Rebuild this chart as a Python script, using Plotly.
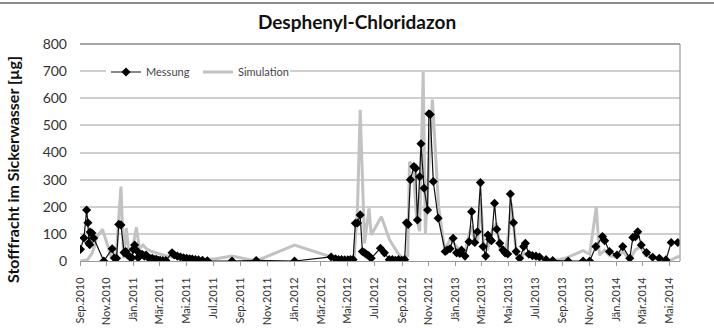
import plotly.graph_objects as go

# ---------------- data ----------------
mess_dates = [
    "2010-09-02", "2010-09-10", "2010-09-16", "2010-09-19", "2010-09-21", "2010-09-23", "2010-09-24",
    "2010-09-28", "2010-10-02", "2010-10-25", "2010-11-13", "2010-11-18", "2010-11-23", "2010-11-28",
    "2010-12-03", "2010-12-10", "2010-12-14", "2010-12-18", "2010-12-23", "2010-12-28", "2010-12-31",
    "2011-01-03", "2011-01-08", "2011-01-11", "2011-01-15", "2011-01-20", "2011-01-25", "2011-01-29",
    "2011-02-03", "2011-02-08", "2011-02-12", "2011-02-17", "2011-02-21", "2011-02-26", "2011-03-02",
    "2011-03-08", "2011-03-15", "2011-03-29", "2011-04-03", "2011-04-10", "2011-04-17", "2011-04-24",
    "2011-05-01", "2011-05-08", "2011-05-14", "2011-05-21", "2011-05-28", "2011-06-06", "2011-06-17",
    "2011-08-12", "2011-10-06", "2012-01-01", "2012-03-24", "2012-04-03", "2012-04-10", "2012-04-17",
    "2012-04-24", "2012-05-01", "2012-05-07", "2012-05-13", "2012-05-18", "2012-05-23", "2012-05-29",
    "2012-06-03", "2012-06-08", "2012-06-12", "2012-06-17", "2012-06-23", "2012-07-14", "2012-07-23",
    "2012-08-03", "2012-08-10", "2012-08-17", "2012-08-24", "2012-08-31", "2012-09-07", "2012-09-11",
    "2012-09-15", "2012-09-20", "2012-09-28", "2012-10-02", "2012-10-06", "2012-10-11", "2012-10-14",
    "2012-10-21", "2012-10-29", "2012-11-01", "2012-11-04", "2012-11-11", "2012-11-22", "2012-12-08",
    "2012-12-12", "2012-12-19", "2012-12-26", "2013-01-03", "2013-01-10", "2013-01-14", "2013-01-22",
    "2013-01-31", "2013-02-06", "2013-02-13", "2013-02-19", "2013-02-26", "2013-03-04", "2013-03-10",
    "2013-03-15", "2013-03-19", "2013-03-23", "2013-03-30", "2013-04-04", "2013-04-11", "2013-04-18",
    "2013-04-23", "2013-04-29", "2013-05-05", "2013-05-12", "2013-05-18", "2013-05-26", "2013-06-04",
    "2013-06-08", "2013-06-16", "2013-06-24", "2013-07-02", "2013-07-10", "2013-07-25", "2013-08-09",
    "2013-09-13", "2013-10-17", "2013-11-01", "2013-11-15", "2013-11-30", "2013-12-05", "2013-12-16",
    "2014-01-02", "2014-01-15", "2014-01-31", "2014-02-07", "2014-02-13", "2014-02-18", "2014-02-26",
    "2014-03-10", "2014-03-24", "2014-04-08", "2014-04-23", "2014-05-05", "2014-05-20",
]
mess_values = [
    43, 85, 188, 141, 66, 60, 107,
    103, 85, 0, 45, 11, 10, 135,
    133, 31, 35, 22, 15, 12, 43,
    59, 38, 12, 20, 25, 18, 22,
    12, 8, 10, 5, 6, 3, 3,
    2, 2, 30, 22, 18, 15, 12,
    10, 8, 7, 5, 4, 3, 1,
    0, 2, 0, 15, 8, 5, 5,
    4, 4, 5, 5, 139, 140, 170,
    35, 30, 25, 20, 10, 47, 30,
    5, 5, 3, 5, 3, 5, 141,
    135, 300, 348, 342, 151, 311, 432,
    268, 188, 543, 540, 293, 158, 35,
    40, 45, 84, 30, 28, 40, 18,
    71, 182, 68, 108, 289, 53, 18,
    96, 80, 75, 213, 117, 65, 41,
    30, 26, 247, 141, 35, 10, 53,
    65, 25, 20, 18, 15, 5, 2,
    0, 0, 0, 53, 90, 75, 35,
    22, 53, 10, 87, 90, 108, 59,
    31, 14, 10, 4, 68, 68,
]

sim_dates = [
    "2010-09-02", "2010-09-18", "2010-09-29", "2010-10-10", "2010-10-22", "2010-11-03", "2010-11-11",
    "2010-11-22", "2010-12-03", "2010-12-09", "2010-12-15", "2010-12-22", "2010-12-30", "2011-01-07",
    "2011-01-14", "2011-01-22", "2011-01-30", "2011-02-11", "2011-02-24", "2011-03-13", "2011-03-29",
    "2011-04-17", "2011-05-09", "2011-06-01", "2011-07-06", "2011-08-12", "2011-09-09", "2011-10-06",
    "2012-01-01", "2012-03-24", "2012-04-12", "2012-05-15", "2012-05-23", "2012-05-29", "2012-06-08",
    "2012-06-18", "2012-06-23", "2012-07-16", "2012-08-04", "2012-08-23", "2012-09-05", "2012-09-14",
    "2012-09-18", "2012-09-26", "2012-10-04", "2012-10-11", "2012-10-19", "2012-10-24", "2012-11-09",
    "2012-11-23", "2012-12-07", "2012-12-19", "2012-12-30", "2013-01-11", "2013-01-22", "2013-01-31",
    "2013-02-07", "2013-02-14", "2013-02-20", "2013-02-26", "2013-03-05", "2013-03-14", "2013-03-26",
    "2013-04-04", "2013-04-11", "2013-04-22", "2013-05-01", "2013-05-07", "2013-05-12", "2013-05-19",
    "2013-05-26", "2013-06-06", "2013-06-18", "2013-07-10", "2013-08-09", "2013-09-06", "2013-09-29",
    "2013-10-17", "2013-11-01", "2013-11-16", "2013-11-23", "2013-12-05", "2013-12-16", "2014-01-01",
    "2014-01-15", "2014-01-31", "2014-02-12", "2014-02-24", "2014-03-07", "2014-03-25", "2014-04-08",
    "2014-05-03", "2014-05-23",
]
sim_values = [
    0, 5, 30, 90, 117, 60, 15,
    20, 274, 10, 122, 20, 50, 124,
    45, 59, 45, 35, 28, 20, 15,
    10, 6, 4, 8, 18, 8, 0,
    59, 15, 5, 5, 200, 557, 65,
    194, 96, 163, 77, 28, 5, 20,
    366, 350, 160, 110, 697, 100, 595,
    200, 40, 80, 60, 40, 30, 100,
    130, 60, 80, 231, 60, 40, 120,
    140, 50, 20, 100, 213, 140, 20,
    5, 30, 20, 8, 0, 10, 25,
    38, 25, 200, 22, 40, 20, 15,
    35, 5, 40, 53, 20, 10, 5,
    2, 18,
]

tick_dates = [
    "2010-09-01", "2010-11-01", "2011-01-01", "2011-03-01", "2011-05-01", "2011-07-01",
    "2011-09-01", "2011-11-01", "2012-01-01", "2012-03-01", "2012-05-01", "2012-07-01",
    "2012-09-01", "2012-11-01", "2013-01-01", "2013-03-01", "2013-05-01", "2013-07-01",
    "2013-09-01", "2013-11-01", "2014-01-01", "2014-03-01", "2014-05-01",
]
tick_labels = [
    "Sep.2010", "Nov.2010", "Jän.2011", "Mär.2011", "Mai.2011", "Jul.2011",
    "Sep.2011", "Nov.2011", "Jän.2012", "Mär.2012", "Mai.2012", "Jul.2012",
    "Sep.2012", "Nov.2012", "Jän.2013", "Mär.2013", "Mai.2013", "Jul.2013",
    "Sep.2013", "Nov.2013", "Jän.2014", "Mär.2014", "Mai.2014",
]

FONT = "Lato"
W, H = 714, 328
ML, MR, MT, MB = 80, 34, 44, 67
PW, PH = W - ML - MR, H - MT - MB

fig = go.Figure()
fig.add_trace(go.Scatter(
    x=sim_dates, y=sim_values, name="Simulation", mode="lines",
    line=dict(color="#c2c2c2", width=3),
))
fig.add_trace(go.Scatter(
    x=mess_dates, y=mess_values, name="Messung", mode="lines+markers",
    line=dict(color="#111111", width=1.2),
    marker=dict(symbol="diamond", size=7, color="#000000"),
))

def px_x(p):
    return (p - ML) / PW

def px_y(p):
    return (H - MB - p) / PH

fig.update_layout(
    width=W, height=H,
    margin=dict(l=ML, r=MR, t=MT, b=MB, autoexpand=False),
    paper_bgcolor="white", plot_bgcolor="white",
    font=dict(family=FONT, color="#333333"),
    title=dict(text="<b>Desphenyl-Chloridazon</b>", x=0.5, xref="container", xanchor="center",
               y=1 - 22 / H, yref="container", yanchor="middle",
               font=dict(family=FONT, size=19, color="#111111")),
    showlegend=True,
    legend=dict(orientation="h", x=px_x(106), y=px_y(72), xanchor="left", yanchor="middle",
                bgcolor="white", font=dict(size=11, color="#444444"),
                entrywidth=47, entrywidthmode="pixels", itemwidth=30,
                traceorder="reversed"),
    xaxis=dict(type="date", range=["2010-09-01", "2014-05-25"], automargin=False,
               tickmode="array", tickvals=tick_dates, ticktext=tick_labels,
               tickangle=-90, tickfont=dict(size=11, color="#333333"),
               ticks="outside", ticklen=4, tickcolor="#999999",
               ticklabelstandoff=7,
               showgrid=False, showline=True, linecolor="#999999", linewidth=1,
               zeroline=False),
    yaxis=dict(range=[0, 800], dtick=100, tick0=0, automargin=False,
               tickfont=dict(size=14, color="#333333"),
               ticklabelstandoff=12,
               showgrid=True, gridcolor="#cfcfcf", gridwidth=1.5,
               showline=False, zeroline=False, ticks=""),
    annotations=[dict(
        text="<b>Stofffracht im Sickerwasser [µg]</b>", textangle=-90,
        xref="paper", yref="paper", x=px_x(12), y=px_y(170),
        xanchor="center", yanchor="middle", showarrow=False,
        font=dict(family=FONT, size=16, color="#111111"),
    )],
    shapes=[
        dict(type="line", xref="paper", yref="paper", x0=px_x(0), x1=px_x(W), y0=px_y(3), y1=px_y(3),
             line=dict(color="#666666", width=1.5)),
        dict(type="line", xref="paper", yref="paper", x0=0, x1=1, y0=1, y1=1,
             line=dict(color="#8a8a8a", width=1.5)),
        dict(type="line", xref="paper", yref="paper", x0=1, x1=1, y0=0, y1=1,
             line=dict(color="#9a9a9a", width=1.2)),
    ],
)

fig.write_html("out.html")
